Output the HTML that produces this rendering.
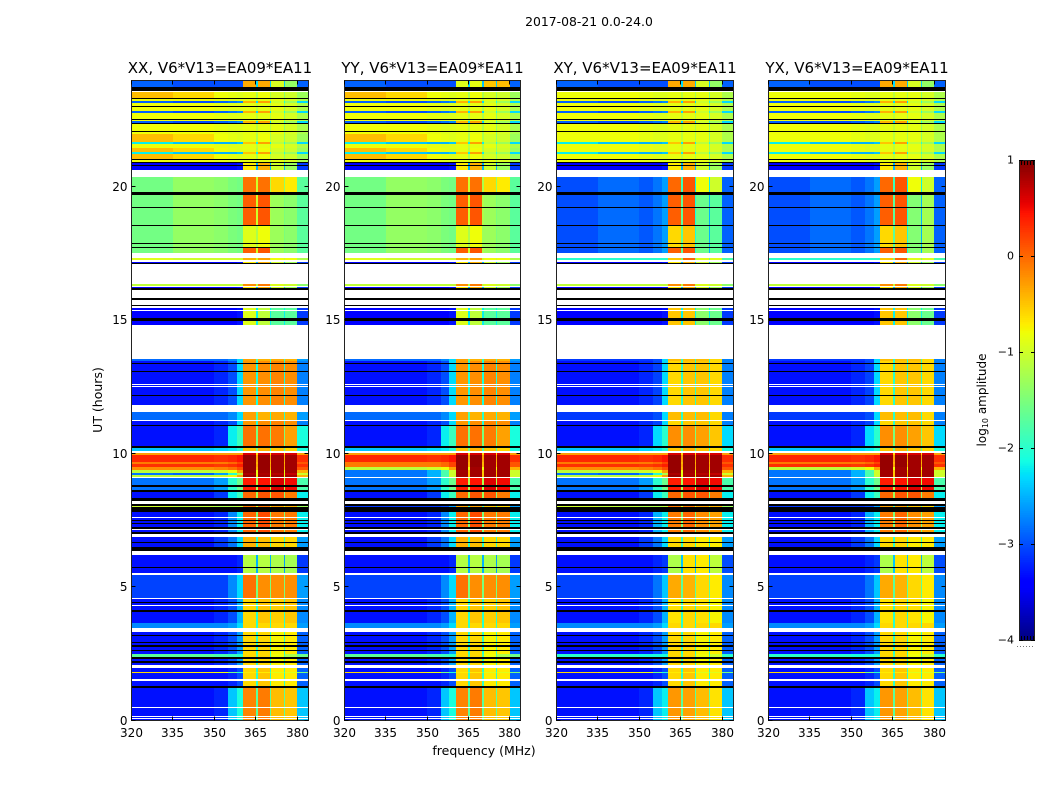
<!DOCTYPE html>
<html>
<head>
<meta charset="utf-8">
<title>2017-08-21 spectrogram</title>
<style>
html,body{margin:0;padding:0;background:#fff;}
svg{display:block;}
text{font-family:"DejaVu Sans","Liberation Sans",sans-serif;fill:#000;}
</style>
</head>
<body>
<svg id="chart" xmlns="http://www.w3.org/2000/svg" width="1050" height="800" viewBox="0 0 1050 800">
<rect x="0" y="0" width="1050" height="800" fill="#fff"/>
<text x="589" y="26" font-size="12.4" text-anchor="middle">2017-08-21 0.0-24.0</text>
<text transform="translate(102,400) rotate(-90)" font-size="12.5" text-anchor="middle">UT (hours)</text>
<text x="484" y="755" font-size="12.5" text-anchor="middle">frequency (MHz)</text>
<text transform="translate(986,400) rotate(-90)" font-size="12" text-anchor="middle">log<tspan font-size="8" dy="2">10</tspan><tspan dy="-2"> amplitude</tspan></text>
<g id="panels"></g>
<g id="colorbar"></g>
</svg>
<script>
/* Categories and tick labels */
const panelTitles = ["XX, V6*V13=EA09*EA11", "YY, V6*V13=EA09*EA11", "XY, V6*V13=EA09*EA11", "YX, V6*V13=EA09*EA11"];
const freqTicks = [320, 335, 350, 365, 380];
const utTicks = [0, 5, 10, 15, 20];
const colorTicks = [1, 0, -1, -2, -3, -4];
/* Frequency channel-group edges in MHz */
const freqEdges = [320, 335, 350, 355, 358, 360.4, 365, 365.8, 370, 370.6, 375, 375.6, 380, 384];
/* Time-row edges in UT hours, top to bottom */
const utEdges = [
23.96,23.73,23.6,23.55,23.31,23.28,23.21,23.14,23.01,22.99,
22.85,22.76,22.53,22.5,22.46,22.38,22.35,22.09,22.06,21.98,
21.69,21.61,21.46,21.44,21.31,21.24,21.03,21.0,20.91,20.87,
20.81,20.78,20.61,20.36,19.81,19.69,19.24,19.21,18.69,18.66,
18.56,18.54,17.88,17.85,17.74,17.7,17.51,17.34,17.24,17.19,
17.13,17.09,16.36,16.28,16.23,16.18,16.13,15.81,15.75,15.55,
15.51,15.45,15.39,15.35,15.06,14.96,14.81,13.54,13.47,13.38,
13.34,13.09,13.06,12.6,12.56,12.53,12.49,12.18,12.15,11.81,
11.55,11.25,11.21,11.06,11.04,10.29,10.21,10.09,10.0,9.94,
9.68,9.6,9.49,9.38,9.26,9.19,9.10,9.06,8.81,8.75,
8.63,8.56,8.31,8.22,8.1,8.03,7.98,7.81,7.62,7.59,
7.5,7.46,7.4,7.35,7.23,7.17,7.13,7.04,6.99,6.87,
6.66,6.64,6.5,6.35,6.19,5.73,5.7,5.52,5.44,4.77,
4.75,4.58,4.53,4.43,4.39,4.33,4.28,4.13,4.06,3.65,
3.46,3.3,3.19,3.14,2.93,2.9,2.81,2.74,2.63,2.59,
2.48,2.35,2.29,2.22,2.14,2.07,1.95,1.81,1.76,1.55,
1.46,1.29,1.21,0.48,0.44,0.15,0.1,0.06,0.03,0];
/* Spectral profiles: log10 amplitude per channel group */
const KK = -99;
const K = [KK,KK,KK,KK,KK,KK,KK,KK,KK,KK,KK,KK,KK];
const W = [null,null,null,null,null,null,null,null,null,null,null,null,null];
const a = [-2.9,-3.0,-3.0,-3.0,-3.0,-0.35,-2.3,-0.35,-2.4,-0.95,-2.4,-1.35,-2.9];
const a2 = [-2.9,-3.0,-3.0,-3.0,-3.0,-0.9,-2.3,-0.85,-2.4,-0.5,-2.4,-0.45,-2.9];
const y = [-0.8,-0.8,-0.85,-0.9,-0.9,-0.85,-1.1,-0.85,-1.2,-0.85,-1.4,-0.95,-1.2];
const o = [-0.45,-0.6,-0.8,-0.85,-0.9,-0.85,-1.2,-0.8,-1.2,-0.95,-1.4,-1.0,-1.3];
const b = [-2.9,-3.0,-2.9,-2.8,-2.7,-0.4,-2.3,-0.3,-2.3,-1.0,-2.0,-1.3,-2.3];
const c = [-2.2,-2.4,-2.5,-2.5,-2.4,-0.5,-2.2,-0.3,-2.2,-1.1,-2.0,-1.3,-2.3];
const d = [-3.4,-3.4,-3.4,-3.4,-3.3,-0.7,-2.5,-0.4,-2.5,-1.0,-2.5,-1.3,-3.1];
const e = [-1.55,-1.35,-1.4,-1.5,-1.55,-0.05,-1.0,-0.05,-1.2,-0.6,-1.4,-0.7,-1.7];
const f = [-1.55,-1.35,-1.4,-1.5,-1.55,0.05,-1.0,0.1,-1.2,-1.3,-1.5,-1.4,-1.7];
const g = [-1.55,-1.35,-1.4,-1.5,-1.55,-0.9,-1.2,-0.8,-1.3,-1.3,-1.5,-1.4,-1.7];
const h = [-3.0,-2.85,-2.95,-2.8,-2.6,0.0,-1.9,0.1,-2.2,-0.8,-2.2,-1.0,-2.9];
const i = [-3.0,-2.85,-2.95,-2.8,-2.6,0.05,-1.7,0.1,-2.1,-1.6,-2.5,-1.7,-2.9];
const j = [-3.0,-2.85,-2.95,-2.8,-2.6,-0.6,-1.7,-0.5,-2.1,-1.6,-2.5,-1.7,-2.9];
const i2 = [-3.0,-2.85,-2.95,-2.8,-2.6,0.05,-1.7,0.1,-2.1,-1.45,-2.5,-1.25,-2.9];
const j2 = [-3.0,-2.85,-2.95,-2.8,-2.6,-0.6,-1.7,-0.5,-2.1,-1.45,-2.5,-1.25,-2.9];
const k = [-0.9,-1.0,-1.0,-1.0,-1.0,-0.4,-1.0,-0.3,-1.0,-0.8,-1.0,-0.8,-1.2];
const l = [-2.0,-2.0,-2.0,-2.0,-2.0,-0.5,-1.5,0.0,-1.5,-0.9,-1.5,-0.9,-1.8];
const m = [-2.4,-2.4,-2.3,-2.2,-2.0,-0.5,-1.6,-0.4,-1.8,-0.5,-1.8,-0.6,-2.1];
const n = [-1.1,-1.1,-1.1,-1.1,-1.1,-0.2,-1.1,-0.1,-1.1,-0.9,-1.1,-1.0,-1.4];
const p = [-3.4,-3.4,-3.4,-3.4,-3.3,-0.9,-2.2,-1.1,-2.2,-1.7,-2.2,-1.7,-3.1];
const q = [-3.4,-3.4,-3.4,-3.4,-3.3,-0.5,-2.2,-0.5,-2.2,-1.4,-2.2,-1.6,-3.1];
const r = [-3.3,-3.3,-3.2,-3.0,-2.3,-0.25,-2.1,-0.2,-2.1,-0.15,-2.1,-0.2,-2.75];
const s = [-3.3,-3.3,-3.2,-3.05,-2.3,-0.6,-2.0,-0.5,-2.0,-0.5,-2.0,-0.6,-2.75];
const t = [-2.85,-2.85,-2.85,-2.7,-2.3,-0.3,-1.8,-0.4,-2.0,-0.35,-2.0,-0.4,-2.6];
const u = [-3.1,-3.1,-3.1,-3.0,-2.3,-0.45,-2.0,-0.45,-2.0,-0.45,-2.0,-0.6,-2.75];
const v = [-3.3,-3.3,-3.2,-2.2,-1.9,-0.05,-1.5,-0.05,-1.5,-0.1,-1.5,-0.3,-2.1];
const w = [-3.3,-3.3,-3.2,-2.3,-2.0,-0.2,-1.5,-0.2,-1.5,-0.3,-1.5,-0.5,-2.3];
const A = [-0.3,-0.3,-0.3,-0.3,-0.3,0.6,-0.6,0.6,-0.6,0.6,-0.6,0.6,-0.3];
const B = [0.35,0.35,0.3,0.35,0.45,0.9,-0.3,0.9,-0.3,0.85,-0.3,0.85,0.3];
const B2 = [0.3,0.3,0.25,0.3,0.4,0.9,-0.3,0.9,-0.3,0.85,-0.3,0.85,0.3];
const C = [-0.1,-0.1,-0.1,0.0,0.2,0.9,-0.4,0.9,-0.4,0.85,-0.4,0.85,0.1];
const C2 = [-0.2,-0.2,-0.15,-0.05,0.15,0.9,-0.4,0.9,-0.4,0.85,-0.4,0.85,0.1];
const D = [-1.1,-1.1,-1.0,-0.8,-0.3,0.9,-0.8,0.85,-0.8,0.85,-0.8,0.85,-0.4];
const D3 = [-2.8,-2.8,-2.5,-1.8,-1.0,0.85,-0.5,0.85,-0.5,0.85,-0.5,0.85,-1.0];
const E = [-2.8,-2.9,-2.6,-2.0,-1.2,0.8,-0.9,0.8,-0.9,0.75,-0.9,0.7,-1.0];
const F = [-2.8,-2.8,-2.6,-2.0,-1.6,0.4,-1.2,0.45,-1.2,0.6,-1.2,0.5,-1.8];
const G = [-3.3,-3.3,-3.1,-2.2,-1.9,0.0,-1.3,0.1,-1.3,0.1,-1.5,-0.1,-2.2];
const H = [-1.0,-1.1,-1.2,-1.2,-1.1,-0.1,-1.0,-0.1,-1.0,-0.3,-1.0,-0.4,-1.3];
const H2 = [-3.1,-3.1,-3.1,-3.0,-2.6,-0.3,-1.8,-0.3,-1.8,-0.5,-1.8,-0.6,-2.6];
const I = [-3.3,-3.3,-3.2,-2.7,-2.2,0.0,-1.5,0.15,-1.5,-0.1,-1.5,-0.1,-2.2];
const J = [-3.3,-3.3,-3.2,-2.5,-2.2,-0.1,-1.5,0.0,-1.5,-0.2,-1.5,-0.3,-2.2];
const L = [-3.3,-3.3,-3.1,-2.8,-2.3,-0.4,-2.0,-0.45,-2.0,-0.6,-2.0,-0.6,-2.6];
const M = [-3.3,-3.3,-3.1,-2.8,-2.3,-0.6,-2.0,-0.6,-2.0,-0.7,-2.0,-0.7,-2.6];
const N = [-3.3,-3.3,-3.3,-3.3,-3.2,-1.15,-2.5,-1.15,-2.5,-1.2,-2.6,-1.25,-3.1];
const O = [-3.3,-3.3,-3.3,-3.2,-3.1,-1.2,-2.4,-0.65,-2.4,-0.7,-2.5,-1.1,-3.0];
const P = [-3.05,-3.05,-3.05,-2.7,-2.3,-0.05,-1.5,-0.2,-1.5,-0.2,-1.5,-0.2,-2.6];
const Q = [-3.05,-3.05,-3.05,-2.8,-2.4,-0.35,-1.7,-0.4,-1.7,-0.6,-1.7,-0.7,-2.7];
const R = [-3.3,-3.3,-3.2,-3.0,-2.5,-0.6,-2.0,-0.5,-2.0,-0.55,-2.0,-0.5,-2.7];
const S = [-3.3,-3.3,-3.2,-3.0,-2.5,-0.65,-2.0,-0.6,-2.0,-0.65,-2.0,-0.75,-2.7];
const T = [-2.7,-2.7,-2.7,-2.6,-2.3,-0.6,-2.0,-0.6,-2.0,-0.6,-2.0,-0.6,-2.6];
const U = [-3.3,-3.3,-3.2,-3.0,-2.6,-0.6,-2.0,-0.6,-2.0,-0.75,-2.0,-0.7,-2.9];
const V = [-1.7,-1.7,-1.8,-1.9,-2.0,-0.6,-1.8,-0.6,-1.8,-0.8,-1.8,-1.2,-1.6];
const V2 = [-2.0,-2.0,-2.1,-2.1,-2.1,-0.6,-1.8,-0.6,-1.8,-0.8,-1.8,-1.0,-2.0];
const X = [-3.3,-3.3,-3.3,-3.2,-3.0,-0.6,-2.0,-0.5,-2.0,-0.7,-2.0,-0.7,-2.9];
const Y = [-0.6,-0.7,-0.8,-1.5,-2.0,-0.7,-1.5,-0.7,-1.5,-0.9,-1.5,-0.9,-1.5];
const Z = [-3.3,-3.3,-3.2,-2.4,-2.1,-0.15,-1.7,-0.1,-1.7,-0.45,-1.7,-0.5,-2.4];
const Z2 = [-3.3,-3.3,-3.2,-2.4,-2.2,-0.25,-1.7,-0.3,-1.7,-0.45,-1.7,-0.65,-2.4];
/* Which profile each time row shows: XX */
const rowsXX = [
a,K,W,o,K,y,b,y,K,y,
b,y,K,y,b,K,y,K,y,o,
c,y,K,o,c,o,K,y,K,d,
K,d,W,e,K,f,K,f,K,f,
K,g,K,g,K,f,W,k,W,d,
K,W,n,W,d,K,W,K,W,K,
W,p,W,p,K,p,W,t,r,K,
r,K,r,W,r,W,r,K,r,W,
t,W,r,K,v,K,m,W,A,B,
C,B2,C2,D,E,D,W,F,K,F,
K,G,K,W,K,H,K,I,W,I,
K,I,K,I,K,W,I,K,W,L,
K,L,K,W,N,K,N,W,P,K,
P,W,R,K,R,W,R,K,R,T,
W,U,K,U,K,U,K,U,K,U,
V,K,U,K,U,W,X,Y,X,W,
X,K,Z,W,Z,W,Z,W,Z];
/* Which profile each time row shows: XY */
const rowsXY = [
a,K,W,y,K,y,b,y,K,y,
b,y,K,y,b,K,y,K,y,y,
c,y,K,y,c,y,K,y,K,d,
K,d,W,h,K,i,K,i,K,i,
K,j,K,j,K,i,W,l,W,d,
K,W,n,W,d,K,W,K,W,K,
W,q,W,q,K,q,W,u,s,K,
s,K,s,W,s,W,s,K,s,W,
u,W,s,K,w,K,m,W,A,B,
C,B2,C2,D,E,D,W,F,K,F,
K,G,K,W,K,H,K,J,W,J,
K,J,K,J,K,W,J,K,W,M,
K,M,K,W,O,K,O,W,Q,K,
Q,W,S,K,S,W,S,K,S,T,
W,U,K,U,K,U,K,U,K,U,
V2,K,U,K,U,W,X,Y,X,W,
X,K,Z2,W,Z2,W,Z2,W,Z2];
/* YY follows XX except where its own rows were read differently */
const rowsYY = rowsXX.map(function(pr){
  if (pr === a) return a2;
  if (pr === B2) return C;
  if (pr === C2) return D;
  if (pr === D || pr === E) return D3;
  if (pr === H) return H2;
  return pr;
});
/* YX follows XY except where its own rows were read differently */
const rowsYX = rowsXY.map(function(pr){
  if (pr === i) return i2;
  if (pr === j) return j2;
  if (pr === C2) return D;
  if (pr === D || pr === E) return D3;
  if (pr === H) return H2;
  return pr;
});
const panelRows = [rowsXX, rowsYY, rowsXY, rowsYX];

const NS = "http://www.w3.org/2000/svg";
const panelLeft = [131.5, 344.5, 556.5, 768.5];
const panelWidth = [177, 176, 177, 177];
const plotTop = 80.5, plotBottom = 720.5;
const freqMin = 320, freqMax = 384;
const pxPerHour = 26.67;

function clamp01(z){ return Math.max(0, Math.min(1, z)); }
function jet(z){
  const rr = z < 0.35 ? 0 : z < 0.66 ? (z - 0.35) / 0.31 : z < 0.89 ? 1 : 1 - 0.5 * (z - 0.89) / 0.11;
  const gg = z < 0.125 ? 0 : z < 0.375 ? (z - 0.125) / 0.25 : z < 0.64 ? 1 : z < 0.91 ? 1 - (z - 0.64) / 0.27 : 0;
  const bb = z < 0.11 ? 0.5 + 0.5 * z / 0.11 : z < 0.34 ? 1 : z < 0.65 ? 1 - (z - 0.34) / 0.31 : 0;
  return "rgb(" + Math.round(255 * clamp01(rr)) + "," + Math.round(255 * clamp01(gg)) + "," + Math.round(255 * clamp01(bb)) + ")";
}
function colorScale(value){
  if (value <= -50) return "#000";
  return jet(clamp01((value + 4) / 5));
}
function xScale(panel, freq){
  return panelLeft[panel] + (freq - freqMin) / (freqMax - freqMin) * panelWidth[panel];
}
function yScale(hours){
  return 720 - hours * pxPerHour;
}
function make(tag, attrs, parent){
  const node = document.createElementNS(NS, tag);
  for (const key in attrs) node.setAttribute(key, attrs[key]);
  parent.appendChild(node);
  return node;
}

const panelsGroup = document.getElementById("panels");
panelTitles.forEach(function(title, pi){
  const group = make("g", {}, panelsGroup);
  
  

  const rows = panelRows[pi];
  rows.forEach(function(profile, ri){
    const yTop = Math.round(yScale(utEdges[ri]));
    const yEnd = Math.round(yScale(utEdges[ri + 1]));
    if (yEnd <= yTop) return;
    profile.forEach(function(value, ci){
      if (value === null) return;
      const xA = Math.round(xScale(pi, freqEdges[ci]));
      const xB = Math.round(xScale(pi, freqEdges[ci + 1]));
      const cell = make("rect", {x: xA, y: yTop, width: xB - xA, height: yEnd - yTop, fill: colorScale(value), "shape-rendering": "crispEdges"}, group);
      
      
    });
  });

  const frame = make("rect", {x: panelLeft[pi], y: plotTop, width: panelWidth[pi], height: plotBottom - plotTop, fill: "none", stroke: "#222", "stroke-width": 1, "shape-rendering": "crispEdges"}, group);
  
  

  freqTicks.forEach(function(tick){
    const xp = Math.round(xScale(pi, tick) - 0.5) + 0.5;
    const tickBottom = make("line", {x1: xp, x2: xp, y1: plotBottom, y2: plotBottom - 4, stroke: "#000", "stroke-width": 1}, group);
    
    
    const tickTop = make("line", {x1: xp, x2: xp, y1: plotTop, y2: plotTop + 4, stroke: "#000", "stroke-width": 1}, group);
    
    
    const label = make("text", {x: xp, y: 737, "font-size": 12, "text-anchor": "middle"}, group);
    label.textContent = String(tick);
    
    
  });

  utTicks.forEach(function(tick){
    const yp = Math.round(yScale(tick) - 0.5) + 0.5;
    const xl = panelLeft[pi], xr = panelLeft[pi] + panelWidth[pi];
    const tickLeft = make("line", {x1: xl, x2: xl + 4, y1: yp, y2: yp, stroke: "#000", "stroke-width": 1}, group);
    
    
    const tickRight = make("line", {x1: xr, x2: xr - 4, y1: yp, y2: yp, stroke: "#000", "stroke-width": 1}, group);
    
    
    const label = make("text", {x: xl - 4, y: yp + 4.5, "font-size": 12, "text-anchor": "end"}, group);
    label.textContent = String(tick);
    
    
  });

  const titleText = make("text", {x: panelLeft[pi] + panelWidth[pi] / 2, y: 73, "font-size": 15, "text-anchor": "middle"}, group);
  titleText.textContent = title;
  
  
});

/* Colorbar */
const cbGroup = document.getElementById("colorbar");
const cbLeft = 1019, cbRight = 1035, cbTop = 160, cbBottom = 640;
function cbY(value){ return cbBottom - (value + 4) / 5 * (cbBottom - cbTop); }
for (let step = 0; step < 256; step++){
  const vLow = -4 + 5 * step / 256, vHigh = -4 + 5 * (step + 1) / 256;
  const band = make("rect", {x: cbLeft, y: cbY(vHigh), width: cbRight - cbLeft, height: cbY(vLow) - cbY(vHigh) + 0.5, fill: jet((step + 0.5) / 256), "shape-rendering": "crispEdges"}, cbGroup);
  
  
}
const cbFrame = make("rect", {x: cbLeft + 0.5, y: cbTop + 0.5, width: cbRight - cbLeft - 1, height: cbBottom - cbTop, fill: "none", stroke: "#222", "stroke-width": 1, "shape-rendering": "crispEdges"}, cbGroup);


colorTicks.forEach(function(tick){
  const yp = Math.round(cbY(tick)) + 0.5;
  const tickA = make("line", {x1: cbLeft, x2: cbLeft + 4, y1: yp, y2: yp, stroke: "#000", "stroke-width": 1}, cbGroup);
  
  
  const tickB = make("line", {x1: cbRight, x2: cbRight - 4, y1: yp, y2: yp, stroke: "#000", "stroke-width": 1}, cbGroup);
  
  
  const label = make("text", {x: cbLeft - 5, y: yp + 3, "font-size": 11, "text-anchor": "end"}, cbGroup);
  label.textContent = tick < 0 ? "\u2212" + Math.abs(tick) : String(tick);
  
  
});
const cbEdgeTicks = make("path", {d: "M1021.5 161V165M1024.5 161V165M1027.5 161V165M1030.5 161V165M1033.5 161V165M1021.5 640V636M1024.5 640V636M1027.5 640V636M1030.5 640V636M1033.5 640V636", stroke: "#000", "stroke-width": 1, fill: "none"}, cbGroup);


const cbDots = make("line", {x1: 1017, x2: 1035, y1: 646.5, y2: 646.5, stroke: "#777", "stroke-width": 1, "stroke-dasharray": "1 2"}, cbGroup);


</script>
</body>
</html>
